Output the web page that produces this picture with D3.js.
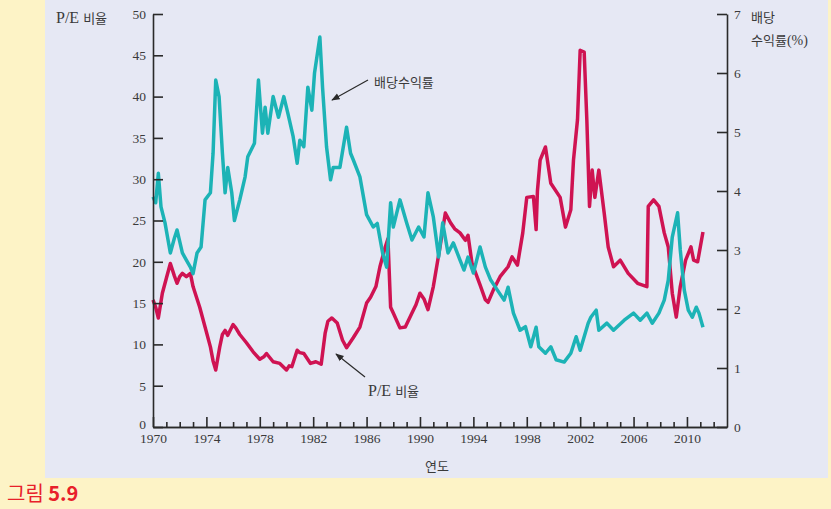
<!DOCTYPE html>
<html><head><meta charset="utf-8">
<script src="https://cdn.jsdelivr.net/npm/d3@7"></script>
<style>
html,body{margin:0;padding:0;background:#fdf3c6;}
svg{display:block;}
</style></head>
<body>
<svg id="chart" width="831" height="509"></svg>
<script>
const peYears = [1970.0,1970.2,1970.4,1970.7,1971.0,1971.3,1971.6,1971.8,1972.0,1972.2,1972.5,1972.8,1973.0,1973.3,1973.5,1973.9,1974.3,1974.5,1974.7,1975.0,1975.2,1975.4,1975.6,1976.0,1976.2,1976.5,1977.0,1977.5,1978.0,1978.3,1978.5,1979.0,1979.5,1980.0,1980.2,1980.4,1980.8,1981.0,1981.3,1981.8,1982.2,1982.6,1982.9,1983.1,1983.4,1983.8,1984.2,1984.5,1985.0,1985.5,1986.0,1986.3,1986.7,1987.0,1987.4,1987.6,1987.8,1988.0,1988.5,1988.9,1989.4,1989.7,1990.0,1990.3,1990.6,1991.0,1991.5,1991.9,1992.3,1992.6,1993.0,1993.4,1993.6,1993.9,1994.2,1994.5,1994.9,1995.1,1995.5,1996.0,1996.3,1996.6,1996.9,1997.3,1997.7,1998.0,1998.5,1998.7,1998.8,1999.0,1999.4,1999.8,2000.5,2000.9,2001.3,2001.5,2001.8,2002.0,2002.3,2002.5,2002.7,2002.9,2003.1,2003.4,2003.8,2004.1,2004.5,2005.0,2005.6,2006.3,2007.0,2007.1,2007.5,2007.9,2008.3,2008.6,2008.9,2009.2,2009.5,2009.9,2010.3,2010.5,2010.8,2011.2];
const peValues = [15.4,14.5,13.2,16.2,18.0,19.8,18.3,17.4,18.2,18.6,18.2,18.6,17.0,15.5,14.5,12.1,9.7,8.0,6.9,9.7,11.2,11.7,11.1,12.4,12.0,11.2,10.2,9.1,8.2,8.5,8.9,7.9,7.7,6.9,7.4,7.3,9.3,9.0,8.9,7.7,7.9,7.6,11.4,12.8,13.2,12.6,10.5,9.6,10.8,12.1,15.0,15.7,17.0,19.4,21.8,22.8,14.5,13.8,12.0,12.1,13.8,14.8,16.2,15.5,14.2,17.0,21.8,25.9,24.7,24.0,23.5,22.6,23.2,19.8,18.5,17.2,15.4,15.1,16.6,18.2,18.8,19.4,20.6,19.6,23.5,27.8,27.9,23.9,28.6,32.3,33.9,29.5,27.8,24.2,26.3,32.3,37.2,45.6,45.4,37.2,26.7,31.1,27.8,31.1,25.9,21.8,19.4,20.2,18.6,17.4,17.0,26.7,27.5,26.7,23.5,21.8,16.2,13.3,17.0,20.2,21.8,20.2,20.0,23.6];

const dyYears = [1970.0,1970.2,1970.4,1970.6,1970.9,1971.3,1971.6,1971.8,1972.2,1972.5,1972.8,1973.0,1973.3,1973.6,1973.9,1974.3,1974.5,1974.7,1974.95,1975.2,1975.4,1975.6,1975.9,1976.1,1976.5,1976.9,1977.1,1977.6,1977.9,1978.2,1978.4,1978.6,1979.0,1979.4,1979.8,1980.1,1980.5,1980.8,1981.0,1981.3,1981.6,1981.9,1982.1,1982.5,1982.7,1983.0,1983.3,1983.5,1984.0,1984.5,1984.8,1985.0,1985.5,1986.0,1986.5,1986.8,1987.2,1987.5,1987.8,1988.0,1988.5,1989.0,1989.4,1989.9,1990.3,1990.6,1991.0,1991.4,1991.7,1992.1,1992.5,1993.0,1993.3,1993.6,1994.0,1994.5,1994.9,1995.3,1995.8,1996.3,1996.6,1997.0,1997.5,1997.9,1998.3,1998.7,1998.9,1999.4,1999.8,2000.2,2000.8,2001.3,2001.7,2002.0,2002.6,2002.8,2003.2,2003.4,2004.0,2004.5,2005.3,2006.0,2006.5,2007.0,2007.4,2007.9,2008.3,2008.6,2008.9,2009.3,2009.5,2009.8,2010.1,2010.4,2010.7,2010.9,2011.2];
const dyValues = [3.9,3.8,4.3,3.73,3.46,2.95,3.2,3.34,2.95,2.83,2.71,2.6,2.95,3.05,3.85,3.97,4.64,5.88,5.6,4.64,3.97,4.4,3.97,3.5,3.85,4.24,4.58,4.81,5.88,4.98,5.42,4.98,5.6,5.25,5.6,5.32,4.92,4.47,4.86,4.75,5.76,5.37,6.0,6.61,5.76,4.75,4.19,4.4,4.4,5.08,4.64,4.53,4.24,3.6,3.39,3.45,2.95,2.71,3.8,3.39,3.85,3.46,3.17,3.39,3.22,3.97,3.56,2.88,3.46,2.95,3.12,2.83,2.66,2.88,2.61,3.05,2.71,2.49,2.32,2.15,2.37,1.93,1.64,1.7,1.36,1.69,1.36,1.25,1.36,1.14,1.1,1.25,1.53,1.3,1.76,1.86,1.98,1.64,1.76,1.64,1.81,1.93,1.81,1.93,1.76,1.93,2.15,2.49,3.22,3.63,3.0,2.32,1.98,1.86,2.03,1.93,1.69];

const xMajorTicks = [1970,1974,1978,1982,1986,1990,1994,1998,2002,2006,2010];
const leftTicks = [0,5,10,15,20,25,30,35,40,45,50];
const rightTicks = [0,1,2,3,4,5,6,7];

const svg = d3.select("#chart");
const serif = "'Liberation Serif','DejaVu Serif',serif";
const kr = "'Noto Sans CJK KR','Noto Sans',sans-serif";
const textCol = "#3a3a3a";

// panel
svg.append("rect").attr("x",45).attr("y",0).attr("width",783).attr("height",478).attr("fill","#e6e8f4");

const x = d3.scaleLinear().domain([1970,2013]).range([153,727]);
const yL = d3.scaleLinear().domain([0,50]).range([427,14]);
const yR = d3.scaleLinear().domain([0,7]).range([427,14]);

// lines
const pe = peYears.map((d,i)=>[d,peValues[i]]);
const dy = dyYears.map((d,i)=>[d,dyValues[i]]);
svg.append("path").datum(pe)
  .attr("d", d3.line().x(d=>x(d[0])).y(d=>yL(d[1])))
  .attr("fill","none").attr("stroke","#cf1352").attr("stroke-width",3.5).attr("stroke-linejoin","round");
svg.append("path").datum(dy)
  .attr("d", d3.line().x(d=>x(d[0])).y(d=>yR(d[1])))
  .attr("fill","none").attr("stroke","#1cb3b6").attr("stroke-width",3.5).attr("stroke-linejoin","round");

// axes
const styleAxis = g => {
  g.selectAll("path,line").attr("stroke","#2a2a2a").attr("stroke-width",1.6);
  g.selectAll("text").attr("font-family",serif).attr("font-size",13.5).attr("fill",textCol);
};
const gl = svg.append("g").attr("transform","translate(153,0)")
  .call(d3.axisLeft(yL).tickValues(leftTicks).tickSizeInner(-10).tickSizeOuter(0).tickPadding(7).tickFormat(d3.format("d")))
  .call(styleAxis);
gl.selectAll(".tick text").filter(d=>d===0).attr("dy","0.1em");
svg.append("g").attr("transform","translate(727,0)")
  .call(d3.axisRight(yR).tickValues(rightTicks).tickSizeInner(-10).tickSizeOuter(0).tickPadding(7).tickFormat(d3.format("d")))
  .call(styleAxis);
const minorYears = d3.range(1970,2013).filter(v=>!xMajorTicks.includes(v));
svg.append("g").attr("transform","translate(0,427)")
  .call(d3.axisBottom(x).tickValues(minorYears).tickSize(-5).tickSizeOuter(0).tickFormat(""))
  .call(styleAxis);
svg.append("g").attr("transform","translate(0,427)")
  .call(d3.axisBottom(x).tickValues(xMajorTicks).tickSizeInner(-10).tickSizeOuter(0).tickPadding(6).tickFormat(d3.format("d")))
  .call(styleAxis);

// titles
const lt = svg.append("text").attr("x",56).attr("y",23).attr("fill",textCol);
lt.append("tspan").attr("font-family",serif).attr("font-size",16).text("P/E ");
lt.append("tspan").attr("font-family",kr).attr("font-size",13).text("비율");

svg.append("text").attr("x",751).attr("y",22).attr("font-family",kr).attr("font-size",13).attr("fill",textCol).text("배당");
const rt = svg.append("text").attr("x",751).attr("y",45).attr("fill",textCol);
rt.append("tspan").attr("font-family",kr).attr("font-size",13).text("수익률");
rt.append("tspan").attr("font-family",serif).attr("font-size",14).text("(%)");

svg.append("text").attr("x",437).attr("y",471).attr("text-anchor","middle").attr("font-family",kr).attr("font-size",13).attr("fill",textCol).text("연도");

// annotations
svg.append("defs").append("marker").attr("id","ah").attr("viewBox","0 0 10 10").attr("refX",9).attr("refY",5)
  .attr("markerWidth",7).attr("markerHeight",7).attr("orient","auto")
  .append("path").attr("d","M0,1 L10,5 L0,9 Z").attr("fill","#2a2a2a");
svg.append("line").attr("x1",368).attr("y1",80).attr("x2",332).attr("y2",100)
  .attr("stroke","#2a2a2a").attr("stroke-width",1.2).attr("marker-end","url(#ah)");
svg.append("text").attr("x",374).attr("y",87).attr("font-family",kr).attr("font-size",13).attr("fill",textCol).text("배당수익률");

svg.append("line").attr("x1",365).attr("y1",377).attr("x2",336).attr("y2",354)
  .attr("stroke","#2a2a2a").attr("stroke-width",1.2).attr("marker-end","url(#ah)");
const pl = svg.append("text").attr("x",368).attr("y",396).attr("fill",textCol);
pl.append("tspan").attr("font-family",serif).attr("font-size",16).text("P/E ");
pl.append("tspan").attr("font-family",kr).attr("font-size",13).text("비율");

// figure caption
const cap = svg.append("text").attr("x",7).attr("y",501).attr("fill","#e8202a").attr("font-family",kr).attr("font-size",20);
cap.append("tspan").text("그림 ");
cap.append("tspan").attr("font-weight","bold").text("5.9");
</script>
</body></html>
